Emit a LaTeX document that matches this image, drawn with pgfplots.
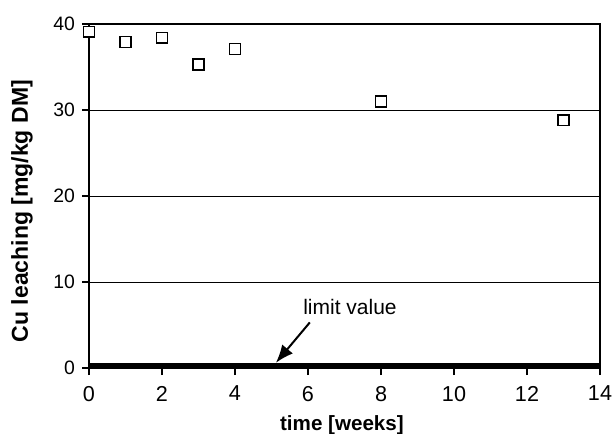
\documentclass[border=0pt]{standalone}
\usepackage{fontspec}
\setmainfont{Liberation Sans}
\usepackage{pgfplots}
\pgfplotsset{compat=1.18}
\usetikzlibrary{arrows.meta}
\begin{document}
\begin{tikzpicture}
\useasboundingbox (-44.5pt,-32.5pt) rectangle (262.5pt,184pt);
\begin{axis}[
  at={(0,0)}, anchor=south west,
  scale only axis, width=255.5pt, height=172pt,
  xmin=0, xmax=14, ymin=0, ymax=40,
  xtick={0,2,...,14}, ytick={0,10,20,30,40},
  tick align=outside, xtick pos=bottom, ytick pos=left,
  major tick length=3.5pt,
  tick style={black, line width=0.6pt},
  ymajorgrids, grid style={black, line width=0.5pt},
  axis line style={black, line width=0.8pt},
  /pgf/number format/assume math mode=true,
  xticklabel style={font=\fontsize{10.8}{12}\selectfont, yshift=-2pt},
  yticklabel style={font=\fontsize{9.7}{11}\selectfont},
  xlabel={\bfseries time [weeks]},
  ylabel={\bfseries Cu leaching [mg/kg DM]},
  every axis x label/.style={at={(axis description cs:0.495,-0.165)}, anchor=center, font=\fontsize{10.3}{12}\selectfont},
  every axis y label/.style={at={(axis description cs:-0.131,0.456)}, rotate=90, anchor=center, font=\fontsize{11.5}{13}\selectfont},
  clip=false,
]
\addplot[only marks, mark=square*, mark size=2.7pt, mark options={draw=black, line width=0.75pt, fill=white}] coordinates {
(0,39.1) (1,37.9) (2,38.4) (3,35.3) (4,37.1) (8,31.0) (13,28.8)
};
\addplot[black, line width=2pt] coordinates {(0,0.4) (14,0.4)};
\draw[black, line width=1pt, -{Latex[length=9pt,width=7pt]}] (axis cs:6.05,5.3) -- (axis cs:5.12,0.6);
\node[font=\fontsize{10.5}{12}\selectfont] at (axis cs:7.15,7.1) {limit value};
\end{axis}
\end{tikzpicture}
\end{document}
